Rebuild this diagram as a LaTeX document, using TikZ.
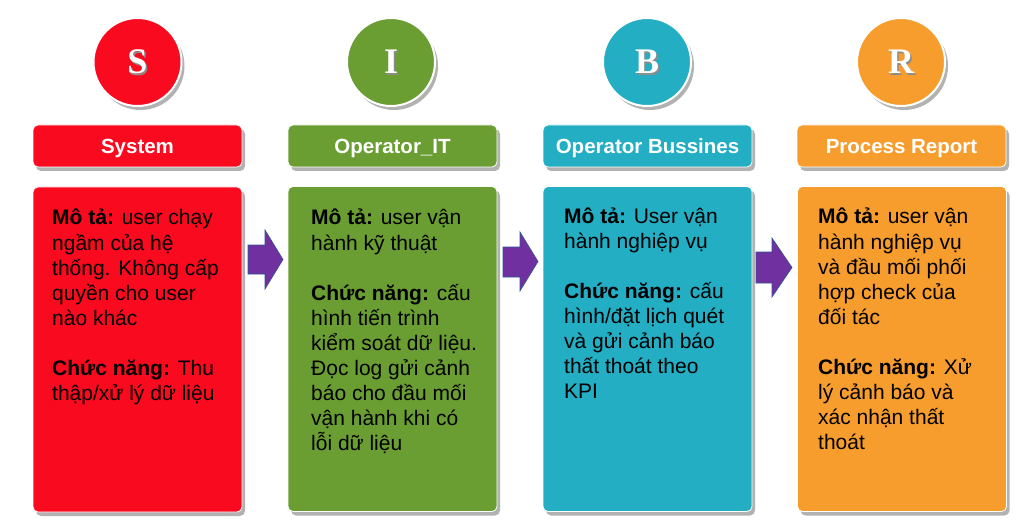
\documentclass[tikz,border=0pt]{standalone}
\usepackage{fontspec}
\setmainfont{Liberation Sans}
\newfontfamily\serifbold{Liberation Serif}
\usetikzlibrary{shadows}
\definecolor{cred}{RGB}{249,10,30}
\definecolor{cgreen}{RGB}{106,158,50}
\definecolor{cblue}{RGB}{35,174,196}
\definecolor{corange}{RGB}{247,157,45}
\definecolor{cpurple}{RGB}{112,48,160}
\definecolor{cedge}{RGB}{47,85,151}
\newcommand{\bodyfnt}{\fontsize{21}{25.1}\selectfont}
\begin{document}
\begin{tikzpicture}[x=1pt,y=-1pt,
  shadowed/.style={drop shadow={shadow xshift=3pt,shadow yshift=-4pt,opacity=0.3,fill=black}},
  panel/.style={rounded corners=5pt,draw=white,line width=0.8pt,shadowed,inner sep=0pt,minimum width=209pt},
  headbox/.style={panel,minimum height=42pt},
  bodybox/.style={panel,minimum height=325pt},
  letterc/.style={circle,draw=white,line width=2pt,minimum size=88pt,inner sep=0pt,shadowed},
  lettert/.style={anchor=base,inner sep=0pt,text=white,font=\serifbold\fontsize{36}{36}\selectfont\bfseries},
  lettersh/.style={anchor=base,inner sep=0pt,text=black!45,font=\serifbold\fontsize{36}{36}\selectfont\bfseries},
  headt/.style={anchor=base,inner sep=0pt,text=white,font=\fontsize{20.5}{24}\selectfont\bfseries},
  bodyt/.style={anchor=base west,inner sep=0pt,font=\bodyfnt},
  blockarrow/.style={fill=cpurple,draw=cedge,line width=0.6pt}]
\fill[white] (0,0) rectangle (1024,529);
\useasboundingbox (0,0) rectangle (1024,529);

% circles
\node[letterc,fill=cred] (cS) at (137.5,62) {};
\node[letterc,fill=cgreen] (cI) at (391,62) {};
\node[letterc,fill=cblue] (cB) at (647,62) {};
\node[letterc,fill=corange] (cR) at (901,62) {};
\foreach \x/\l in {137.5/S,391/I,647/B,901/R}{
  \node[lettersh] at (\x+1.5,75.5) {\l};
}
\node[lettert] (lS) at (137.5,74) {S};
\node[lettert] (lI) at (391,74) {I};
\node[lettert] (lB) at (647,74) {B};
\node[lettert] (lR) at (901,74) {R};

% headers
\node[headbox,fill=cred] (hS) at (137.5,146) {};
\node[headbox,fill=cgreen] (hI) at (392.5,146) {};
\node[headbox,fill=cblue] (hB) at (647.5,146) {};
\node[headbox,fill=corange] (hR) at (901.5,146) {};
\node[headt] (htS) at (137.5,154) {System};
\node[headt] (htI) at (392.5,154) {Operator\_IT};
\node[headt] (htB) at (647.5,154) {Operator Bussines};
\node[headt] (htR) at (901.5,154) {Process Report};

% bodies
\node[bodybox,fill=cred] (bS) at (137.5,349.5) {};
\node[bodybox,fill=cgreen] (bI) at (392.5,349) {};
\node[bodybox,fill=cblue] (bB) at (647.5,349) {};
\node[bodybox,fill=corange] (bR) at (902,349) {};

% arrows
\draw[blockarrow] (248,245) -- (265,245) -- (265,230) -- (283,259.5) -- (265,289) -- (265,274) -- (248,274) -- cycle;
\draw[blockarrow] (503,247) -- (520,247) -- (520,232) -- (538,261.5) -- (520,291) -- (520,277) -- (503,277) -- cycle;
\draw[blockarrow] (756,252) -- (772,252) -- (772,238) -- (792,267.5) -- (772,297) -- (772,283) -- (756,283) -- cycle;

% texts
\node[bodyt] (tS) at (52,225) {\parbox[t]{185pt}{\raggedright
\textbf{Mô tả:} user chạy\\ngầm của hệ\\thống. Không cấp\\quyền cho user\\nào khác\\[25.1pt]
\textbf{Chức năng:} Thu\\thập/xử lý dữ liệu}};
\node[bodyt] (tI) at (311,225) {\parbox[t]{185pt}{\raggedright
\textbf{Mô tả:} user vận\\hành kỹ thuật\\[25.1pt]
\textbf{Chức năng:} cấu\\hình tiến trình\\kiểm soát dữ liệu.\\Đọc log gửi cảnh\\báo cho đầu mối\\vận hành khi có\\lỗi dữ liệu}};
\node[bodyt] (tB) at (564,223) {\parbox[t]{185pt}{\raggedright
\textbf{Mô tả:} User vận\\hành nghiệp vụ\\[25.1pt]
\textbf{Chức năng:} cấu\\hình/đặt lịch quét\\và gửi cảnh báo\\thất thoát theo\\KPI}};
\node[bodyt] (tR) at (818,224) {\parbox[t]{185pt}{\raggedright
\textbf{Mô tả:} user vận\\hành nghiệp vụ\\và đầu mối phối\\hợp check của\\đối tác\\[25.1pt]
\textbf{Chức năng:} Xử\\lý cảnh báo và\\xác nhận thất\\thoát}};
\end{tikzpicture}
\end{document}
